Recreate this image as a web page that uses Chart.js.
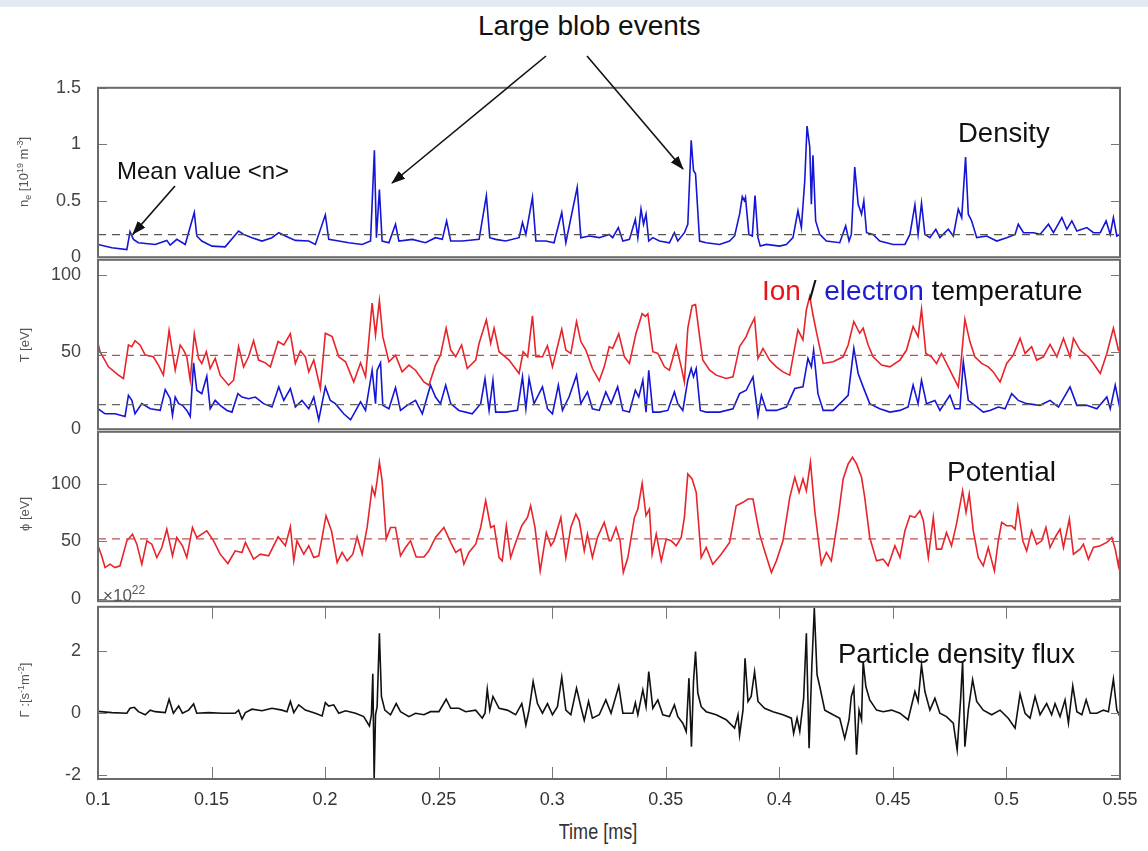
<!DOCTYPE html>
<html>
<head>
<meta charset="utf-8">
<script src="https://cdn.jsdelivr.net/npm/chart.js@4.4.0/dist/chart.umd.min.js"></script>
<style>
  body { margin: 0; width: 1148px; height: 851px; overflow: hidden; position: relative; background: #fff;
         font-family: "Liberation Sans", Arial, sans-serif; }
  canvas { position: absolute; left: 0; }
  .band { position: absolute; left: 0; top: 0; width: 1148px; height: 7px; background: #e2e9f2; }
  .note { position: absolute; white-space: nowrap; line-height: 1; color: #111; }
  .ylab { position: absolute; white-space: nowrap; color: #555; font-size: 13px;
          transform: translate(-50%, -50%) rotate(-90deg); }
  .ylab sup, .ylab sub { font-size: 9px; }
  .xlab { position: absolute; left: 598px; top: 832px; transform: translate(-50%, -50%) scaleX(0.82); color: #333;
          font-size: 22px; white-space: nowrap; }
</style>
</head>
<body>
<div class="band"></div>
<canvas id="c1" width="1148" height="225" style="top:60px"></canvas>
<canvas id="c2" width="1148" height="225" style="top:232px"></canvas>
<canvas id="c3" width="1148" height="225" style="top:404px"></canvas>
<canvas id="c4" width="1148" height="230" style="top:579px"></canvas>

<div class="ylab" style="left:24px;top:172px">n<sub>e</sub> [10<sup>19</sup> m<sup>-3</sup>]</div>
<div class="ylab" style="left:24px;top:345px">T [eV]</div>
<div class="ylab" style="left:24px;top:514px">&#981; [eV]</div>
<div class="ylab" style="left:24px;top:690px">&Gamma; :[s<sup>-1</sup>m<sup>-2</sup>]</div>
<div class="note" style="left:103px;top:584px;font-size:17px;color:#555">&times;10<sup style="font-size:12px">22</sup></div>
<div class="xlab">Time [ms]</div>

<div class="note" style="left:478px;top:12px;font-size:28px">Large blob events</div>
<div class="note" style="left:117px;top:159px;font-size:24px">Mean value &lt;n&gt;</div>
<div class="note" style="left:958px;top:119px;font-size:27.5px">Density</div>
<div class="note" style="left:762px;top:277px;font-size:28px"><span style="color:#e8141c">Ion</span> / <span style="color:#1c1cd0">electron</span> temperature</div>
<div class="note" style="left:947px;top:458px;font-size:28px">Potential</div>
<div class="note" style="left:838px;top:640px;font-size:27.5px">Particle density flux</div>

<svg width="1148" height="851" style="position:absolute;left:0;top:0;pointer-events:none">
  <defs>
    <marker id="ah" markerWidth="14" markerHeight="10" refX="13" refY="5" orient="auto" markerUnits="userSpaceOnUse">
      <path d="M0,0 L14,5 L0,10 z" fill="#111"/>
    </marker>
  </defs>
  <line x1="546" y1="56" x2="392" y2="183" stroke="#111" stroke-width="1.6" marker-end="url(#ah)"/>
  <line x1="587" y1="56" x2="683" y2="169" stroke="#111" stroke-width="1.6" marker-end="url(#ah)"/>
  <line x1="175" y1="186" x2="133" y2="234" stroke="#111" stroke-width="1.6" marker-end="url(#ah)"/>
</svg>

<script>
// time axis [ms]
var xTicks = [0.1, 0.15, 0.2, 0.25, 0.3, 0.35, 0.4, 0.45, 0.5, 0.55];
var xTickLabels = ['0.1', '0.15', '0.2', '0.25', '0.3', '0.35', '0.4', '0.45', '0.5', '0.55'];

var densityTicks = [0, 0.5, 1, 1.5];
var densityTickLabels = ['0', '0.5', '1', '1.5'];
var tempTicks = [0, 50, 100];
var potentialTicks = [0, 50, 100];
var fluxTicks = [-2, 0, 2];

// mean values (dashed lines)
var densityMean = 0.2;
var ionMean = 48;
var electronMean = 16;
var potentialMean = 52;

// n_e [1e19 m^-3]  [time, value]
var density = [
  [0.1000,0.113],[0.1061,0.083],[0.1127,0.068],[0.1141,0.226],[0.1156,0.158],[0.1178,0.128],[0.1252,0.113],
  [0.1303,0.149],[0.1318,0.107],[0.1347,0.158],[0.1384,0.113],[0.1424,0.396],[0.1435,0.188],[0.1457,0.143],
  [0.1502,0.098],[0.1560,0.092],[0.1619,0.232],[0.1641,0.202],[0.1678,0.173],[0.1722,0.143],[0.1766,0.173],
  [0.1796,0.217],[0.1825,0.188],[0.1869,0.149],[0.1928,0.143],[0.1957,0.113],[0.2001,0.375],[0.2016,0.158],
  [0.2060,0.143],[0.2104,0.128],[0.2163,0.113],[0.2200,0.143],[0.2217,0.946],[0.2226,0.173],[0.2239,0.598],
  [0.2251,0.143],[0.2281,0.128],[0.2310,0.292],[0.2325,0.143],[0.2384,0.158],[0.2442,0.128],[0.2486,0.173],
  [0.2516,0.158],[0.2535,0.321],[0.2553,0.143],[0.2604,0.143],[0.2678,0.158],[0.2710,0.545],[0.2725,0.173],
  [0.2751,0.158],[0.2795,0.143],[0.2854,0.173],[0.2869,0.307],[0.2884,0.202],[0.2913,0.530],[0.2928,0.143],
  [0.2972,0.143],[0.3008,0.128],[0.3042,0.396],[0.3060,0.128],[0.3110,0.619],[0.3126,0.173],[0.3163,0.188],
  [0.3207,0.173],[0.3251,0.202],
  [0.3266,0.173],[0.3291,0.262],[0.3311,0.143],[0.3340,0.158],[0.3366,0.336],[0.3377,0.173],[0.3391,0.426],
  [0.3402,0.292],[0.3413,0.381],[0.3425,0.143],[0.3443,0.173],[0.3472,0.143],[0.3516,0.128],[0.3538,0.217],
  [0.3553,0.143],[0.3582,0.217],[0.3597,0.292],[0.3612,1.036],[0.3622,0.768],[0.3631,0.738],[0.3649,0.143],
  [0.3678,0.128],[0.3737,0.113],[0.3781,0.143],[0.3803,0.188],[0.3825,0.381],[0.3837,0.536],[0.3846,0.500],
  [0.3851,0.530],[0.3866,0.202],[0.3881,0.188],[0.3893,0.545],[0.3906,0.173],[0.3916,0.098],[0.3943,0.113],
  [0.4001,0.098],[0.4031,0.113],[0.4060,0.173],[0.4082,0.411],[0.4097,0.262],[0.4112,0.679],[0.4122,1.161],
  [0.4134,0.976],[0.4141,0.470],[0.4148,0.902],[0.4160,0.321],[0.4178,0.202],[0.4207,0.143],[0.4266,0.128],
  [0.4292,0.277],[0.4307,0.143],[0.4317,0.202],[0.4332,0.798],[0.4347,0.470],[0.4362,0.381],[0.4372,0.500],
  [0.4384,0.217],[0.4413,0.202],[0.4442,0.143],[0.4501,0.113],[0.4553,0.113],[0.4575,0.202],[0.4597,0.464],
  [0.4611,0.202],[0.4626,0.479],[0.4641,0.202],[0.4663,0.173],[0.4689,0.247],[0.4707,0.173],[0.4744,0.247],
  [0.4766,0.188],[0.4788,0.426],[0.4803,0.351],[0.4820,0.887],[0.4832,0.381],[0.4847,0.321],[0.4869,0.173],
  [0.4913,0.188],[0.4957,0.143],[0.5001,0.173],[0.5038,0.202],[0.5052,0.292],[0.5075,0.217],[0.5119,0.217],
  [0.5148,0.202],[0.5185,0.292],[0.5207,0.217],[0.5244,0.351],[0.5266,0.247],[0.5288,0.321],[0.5310,0.232],
  [0.5354,0.262],[0.5383,0.217],[0.5413,0.217],[0.5439,0.321],[0.5457,0.202],[0.5471,0.351],[0.5486,0.188],
  [0.5500,0.202]
];

// ion temperature [eV]
var ionTemp = [
  [0.1000,55.8],[0.1009,50.3],[0.1046,40.5],[0.1090,35.1],[0.1112,32.9],[0.1134,54.7],[0.1149,53.6],[0.1163,57.5],
  [0.1185,54.7],[0.1208,48.1],[0.1244,47.0],[0.1266,41.6],[0.1288,35.1],[0.1313,64.1],[0.1340,38.3],[0.1362,54.7],
  [0.1377,51.4],[0.1391,47.0],[0.1406,31.8],[0.1424,61.9],[0.1443,45.9],[0.1457,42.7],[0.1477,50.3],[0.1494,39.4],
  [0.1516,45.9],[0.1538,35.1],[0.1575,28.6],[0.1597,31.8],[0.1619,53.6],[0.1641,40.5],[0.1663,47.0],[0.1685,57.5],
  [0.1707,44.9],[0.1737,43.1],[0.1759,40.5],[0.1793,56.9],[0.1818,54.7],[0.1847,61.9],[0.1869,42.7],[0.1891,50.9],
  [0.1913,47.0],[0.1928,37.2],[0.1950,44.9],[0.1979,26.4],[0.2001,62.3],[0.2031,60.1],[0.2060,47.0],[0.2090,43.8],
  [0.2126,30.7],[0.2156,43.1],[0.2178,34.0],[0.2207,81.9],[0.2222,61.2],[0.2239,83.4],[0.2254,60.1],[0.2281,43.8],
  [0.2310,48.1],[0.2339,37.2],[0.2369,41.6],[0.2398,38.3],[0.2435,30.7],[0.2457,28.6],[0.2486,41.6],[0.2508,48.1],
  [0.2533,65.6],[0.2553,51.4],[0.2575,47.0],[0.2601,54.7],[0.2626,39.4],[0.2663,44.9],[0.2678,55.8],[0.2710,71.0],
  [0.2729,55.8],[0.2744,65.6],[0.2766,50.3],[0.2810,44.9],[0.2854,36.2],[0.2872,50.3],[0.2892,47.0],[0.2913,73.6],
  [0.2928,47.0],[0.2957,47.0],[0.2979,54.2],[0.3001,40.5],[0.3042,64.9],[0.3060,51.4],[0.3082,49.2],[0.3107,69.9],
  [0.3126,56.9],[0.3148,51.4],[0.3177,39.4],[0.3207,31.4],[0.3229,40.5],[0.3251,53.6],
  [0.3266,52.5],[0.3293,61.9],[0.3318,47.0],[0.3340,42.7],[0.3369,62.3],[0.3396,75.0],[0.3410,73.2],[0.3421,75.0],
  [0.3443,50.3],[0.3465,49.2],[0.3494,40.5],[0.3516,38.3],[0.3546,54.2],[0.3568,40.5],[0.3582,30.7],[0.3597,65.6],
  [0.3616,80.2],[0.3631,80.9],[0.3649,60.1],[0.3663,44.9],[0.3693,38.3],[0.3722,35.1],[0.3766,32.9],[0.3796,34.0],
  [0.3825,53.6],[0.3854,60.1],[0.3869,65.6],[0.3891,72.1],[0.3906,45.9],[0.3928,52.5],[0.3957,44.9],[0.3987,40.5],
  [0.4016,37.2],[0.4046,35.1],[0.4082,64.5],[0.4104,58.0],[0.4119,77.6],[0.4134,86.3],[0.4148,74.3],[0.4166,61.2],
  [0.4193,42.7],[0.4237,43.8],[0.4281,47.0],[0.4303,54.7],[0.4328,69.9],[0.4354,62.3],[0.4369,65.6],[0.4391,54.7],
  [0.4413,47.0],[0.4450,41.6],[0.4487,40.5],[0.4531,44.9],[0.4560,51.4],[0.4589,66.7],[0.4611,60.1],[0.4626,78.0],
  [0.4645,49.2],[0.4670,47.0],[0.4692,42.7],[0.4714,49.2],[0.4744,40.5],[0.4766,34.0],[0.4788,27.5],[0.4798,40.5],
  [0.4817,71.3],[0.4839,56.9],[0.4861,47.0],[0.4891,42.7],[0.4920,40.5],[0.4942,37.2],[0.4972,30.7],[0.5001,42.7],
  [0.5030,48.1],[0.5060,59.0],[0.5082,49.2],[0.5111,53.6],[0.5133,44.9],[0.5163,47.0],[0.5192,55.1],[0.5222,47.0],
  [0.5251,59.0],[0.5280,47.0],[0.5295,59.0],[0.5324,51.4],[0.5361,47.0],[0.5383,42.7],[0.5413,36.2],[0.5442,49.2],
  [0.5471,65.6],[0.5493,51.4],[0.5500,50.3]
];

// electron temperature [eV]
var electronTemp = [
  [0.1000,13.3],[0.1031,10.0],[0.1075,10.0],[0.1119,8.3],[0.1134,22.0],[0.1149,18.7],[0.1163,10.0],[0.1193,16.6],
  [0.1230,13.3],[0.1274,12.2],[0.1296,25.7],[0.1318,19.8],[0.1328,9.0],[0.1340,20.9],[0.1355,16.6],[0.1372,15.5],
  [0.1391,12.2],[0.1406,8.3],[0.1421,43.1],[0.1435,25.3],[0.1457,23.1],[0.1479,34.4],[0.1494,13.3],[0.1516,18.7],
  [0.1538,15.5],[0.1568,12.2],[0.1590,11.1],[0.1616,23.1],[0.1634,20.9],[0.1663,19.8],[0.1693,20.9],[0.1729,16.6],
  [0.1766,14.4],[0.1796,27.5],[0.1818,18.7],[0.1847,26.4],[0.1869,14.4],[0.1898,18.7],[0.1928,13.3],[0.1950,20.9],
  [0.1972,6.1],[0.2001,27.5],[0.2023,18.7],[0.2045,16.6],[0.2082,10.0],[0.2112,6.1],[0.2156,17.7],[0.2178,12.2],
  [0.2207,38.3],[0.2222,16.6],[0.2229,38.3],[0.2244,43.1],[0.2254,15.5],[0.2281,13.3],[0.2310,27.0],[0.2332,12.2],
  [0.2361,15.5],[0.2398,18.7],[0.2428,10.0],[0.2464,28.6],[0.2486,20.9],[0.2508,16.6],[0.2531,28.6],[0.2553,16.6],
  [0.2589,12.2],[0.2648,10.0],[0.2685,16.6],[0.2704,32.9],[0.2722,12.2],[0.2739,31.8],[0.2751,11.1],[0.2795,11.1],
  [0.2847,12.2],[0.2869,34.0],[0.2884,13.3],[0.2898,32.9],[0.2920,16.6],[0.2957,27.5],[0.2979,13.3],[0.3001,10.0],
  [0.3027,28.6],[0.3045,12.2],[0.3074,20.9],[0.3107,35.1],[0.3126,16.6],[0.3155,24.2],[0.3177,13.3],[0.3207,12.2],
  [0.3236,24.2],
  [0.3259,16.6],[0.3288,27.5],[0.3311,12.2],[0.3340,11.1],[0.3366,25.3],[0.3381,20.9],[0.3399,31.8],[0.3413,11.1],
  [0.3425,38.3],[0.3443,11.1],[0.3472,11.1],[0.3509,12.2],[0.3538,24.2],[0.3553,16.6],[0.3575,12.2],[0.3597,31.8],
  [0.3612,39.4],[0.3622,34.0],[0.3634,39.4],[0.3652,12.2],[0.3678,11.1],[0.3737,11.1],[0.3796,13.3],[0.3825,23.1],
  [0.3854,25.3],[0.3884,34.0],[0.3906,9.0],[0.3921,22.0],[0.3943,12.2],[0.3987,12.2],[0.4031,14.4],[0.4068,26.4],
  [0.4104,27.5],[0.4126,46.0],[0.4141,40.5],[0.4151,51.4],[0.4170,23.1],[0.4193,12.2],[0.4237,12.2],[0.4281,18.7],
  [0.4303,22.0],[0.4328,52.5],[0.4347,36.2],[0.4369,27.5],[0.4398,16.6],[0.4442,13.3],[0.4487,11.1],[0.4531,12.2],
  [0.4567,14.4],[0.4589,28.6],[0.4611,16.6],[0.4626,31.8],[0.4648,16.6],[0.4685,18.7],[0.4707,12.2],[0.4751,22.0],
  [0.4773,13.3],[0.4795,13.3],[0.4810,43.8],[0.4832,18.7],[0.4861,15.5],[0.4898,11.1],[0.4927,12.2],[0.4964,14.4],
  [0.4994,13.3],[0.5023,23.1],[0.5052,18.7],[0.5089,16.6],[0.5148,15.5],[0.5192,18.7],[0.5229,14.4],[0.5280,27.5],
  [0.5310,15.5],[0.5354,15.5],[0.5398,13.3],[0.5442,20.9],[0.5457,13.3],[0.5479,28.6],[0.5500,13.3]
];

// plasma potential [eV]
var potential = [
  [0.1000,46.1],[0.1016,37.4],[0.1031,27.2],[0.1053,30.1],[0.1075,27.2],[0.1097,28.7],[0.1127,50.4],[0.1152,56.2],
  [0.1171,47.5],[0.1193,30.1],[0.1215,50.4],[0.1237,47.5],[0.1259,35.9],[0.1281,44.6],[0.1303,60.5],[0.1328,37.4],
  [0.1347,53.3],[0.1372,46.1],[0.1391,35.9],[0.1416,62.0],[0.1435,53.3],[0.1457,56.2],[0.1479,59.1],[0.1509,50.4],
  [0.1538,38.8],[0.1572,30.7],[0.1604,41.7],[0.1634,40.3],[0.1649,49.0],[0.1685,34.5],[0.1715,38.8],[0.1751,37.4],
  [0.1793,53.9],[0.1825,46.1],[0.1847,62.6],[0.1862,33.0],[0.1876,50.4],[0.1906,38.8],[0.1928,46.1],[0.1950,35.9],
  [0.1972,37.4],[0.2004,72.2],[0.2028,59.1],[0.2053,31.6],[0.2075,40.3],[0.2097,33.0],[0.2122,38.8],[0.2141,53.9],
  [0.2163,38.8],[0.2185,62.0],[0.2207,96.8],[0.2219,89.6],[0.2229,102.6],[0.2239,118.6],[0.2251,102.6],[0.2269,51.9],
  [0.2288,62.0],[0.2310,62.0],[0.2332,37.4],[0.2354,44.6],[0.2376,50.4],[0.2401,36.4],[0.2435,36.4],[0.2457,41.7],
  [0.2486,53.3],[0.2523,62.0],[0.2553,49.0],[0.2575,40.3],[0.2597,43.2],[0.2611,30.1],[0.2633,40.3],[0.2663,47.5],
  [0.2685,62.0],[0.2707,85.2],[0.2729,62.0],[0.2744,63.5],[0.2766,35.9],[0.2780,33.0],[0.2798,63.5],[0.2817,35.9],
  [0.2839,49.0],[0.2866,63.5],[0.2891,70.7],[0.2905,80.9],[0.2924,62.0],[0.2947,24.3],[0.2974,57.6],[0.2994,46.1],
  [0.3008,50.4],[0.3038,70.7],[0.3060,35.9],[0.3082,62.0],[0.3104,73.6],[0.3119,67.8],[0.3141,41.7],[0.3155,56.2],
  [0.3177,35.9],[0.3199,53.3],[0.3229,66.4],[0.3251,50.4],
  [0.3259,50.4],[0.3281,62.0],[0.3299,50.4],[0.3313,22.9],[0.3333,35.9],[0.3362,70.7],[0.3377,77.9],[0.3396,100.3],
  [0.3413,72.2],[0.3428,77.9],[0.3440,38.8],[0.3458,56.2],[0.3480,33.0],[0.3502,51.9],[0.3524,50.4],[0.3546,46.1],
  [0.3568,53.3],[0.3582,70.7],[0.3597,108.4],[0.3616,104.1],[0.3634,92.5],[0.3656,35.9],[0.3678,44.6],[0.3707,30.1],
  [0.3744,38.8],[0.3781,49.0],[0.3810,80.9],[0.3840,83.8],[0.3862,86.7],[0.3884,86.7],[0.3899,70.7],[0.3913,56.2],
  [0.3935,41.7],[0.3965,22.9],[0.3987,33.0],[0.4016,50.4],[0.4046,88.1],[0.4068,105.5],[0.4087,92.5],[0.4104,104.1],
  [0.4119,93.9],[0.4137,118.6],[0.4156,76.5],[0.4185,30.1],[0.4207,40.3],[0.4229,33.0],[0.4259,70.7],[0.4281,104.1],
  [0.4303,117.1],[0.4322,122.9],[0.4340,117.1],[0.4362,105.5],[0.4376,88.1],[0.4398,53.3],[0.4428,33.0],[0.4457,34.5],
  [0.4479,28.7],[0.4509,46.1],[0.4531,35.9],[0.4553,59.1],[0.4575,72.2],[0.4597,70.7],[0.4619,76.5],[0.4634,67.8],
  [0.4656,35.9],[0.4678,70.7],[0.4692,43.2],[0.4714,43.2],[0.4736,57.6],[0.4758,46.1],[0.4780,64.9],[0.4807,93.9],
  [0.4822,75.1],[0.4836,91.0],[0.4854,59.1],[0.4876,35.9],[0.4898,28.7],[0.4920,44.6],[0.4947,24.3],[0.4964,50.4],
  [0.4979,66.4],[0.5001,63.5],[0.5023,63.5],[0.5038,60.5],[0.5050,80.0],[0.5072,50.4],[0.5089,41.7],[0.5111,59.1],
  [0.5133,47.5],[0.5155,50.4],[0.5174,62.0],[0.5192,44.6],[0.5214,53.3],[0.5236,60.5],[0.5251,44.6],[0.5277,69.3],
  [0.5295,38.8],[0.5324,43.2],[0.5339,47.5],[0.5361,34.5],[0.5383,44.6],[0.5413,46.1],[0.5442,49.0],[0.5464,53.3],
  [0.5479,43.2],[0.5493,28.7],[0.5500,38.8]
];

// particle flux [1e22 s^-1 m^-2]
var flux = [
  [0.1000,0.05],[0.1061,0.01],[0.1127,-0.01],[0.1141,0.15],[0.1160,0.18],[0.1178,0.04],[0.1208,-0.06],[0.1230,0.09],
  [0.1252,0.04],[0.1296,0.01],[0.1313,0.44],[0.1332,-0.01],[0.1355,0.22],[0.1372,-0.01],[0.1399,0.09],[0.1421,0.29],
  [0.1435,-0.01],[0.1487,0.01],[0.1546,-0.01],[0.1604,-0.01],[0.1619,0.09],[0.1634,-0.20],[0.1649,0.01],[0.1678,0.12],
  [0.1722,0.07],[0.1766,0.15],[0.1810,0.09],[0.1832,0.04],[0.1847,0.37],[0.1862,0.01],[0.1884,0.26],[0.1913,0.09],
  [0.1957,-0.01],[0.1987,-0.10],[0.2001,0.33],[0.2016,0.22],[0.2038,0.26],[0.2060,-0.01],[0.2090,0.07],[0.2134,-0.01],
  [0.2170,-0.12],[0.2195,-0.42],[0.2204,-0.06],[0.2210,1.26],[0.2216,-2.11],[0.2222,-0.06],[0.2229,0.20],[0.2239,2.57],
  [0.2248,0.53],[0.2263,0.09],[0.2288,-0.06],[0.2313,0.30],[0.2332,0.04],[0.2369,-0.12],[0.2398,-0.01],[0.2435,-0.06],
  [0.2464,0.04],[0.2501,0.04],[0.2533,0.44],[0.2553,0.15],[0.2589,0.15],[0.2619,0.04],[0.2663,0.09],[0.2692,-0.17],
  [0.2704,-0.01],[0.2714,0.76],[0.2725,0.09],[0.2739,0.53],[0.2766,0.15],[0.2802,0.09],[0.2839,-0.06],[0.2866,0.30],
  [0.2876,-0.06],[0.2884,-0.39],[0.2898,0.09],[0.2916,1.01],[0.2935,0.30],[0.2957,-0.01],[0.2979,0.30],[0.3001,-0.06],
  [0.3023,0.20],[0.3042,1.15],[0.3060,0.09],[0.3082,-0.06],[0.3107,0.80],[0.3126,0.20],[0.3141,-0.24],[0.3160,0.37],
  [0.3177,-0.17],[0.3207,-0.06],[0.3236,0.42],
  [0.3259,-0.01],[0.3293,0.87],[0.3311,-0.01],[0.3355,-0.01],[0.3366,0.33],[0.3377,-0.06],[0.3399,0.74],[0.3413,0.20],
  [0.3425,1.33],[0.3443,0.15],[0.3465,0.42],[0.3487,-0.06],[0.3516,-0.12],[0.3538,0.26],[0.3553,-0.12],[0.3575,-0.33],
  [0.3590,-0.60],[0.3602,1.12],[0.3613,-1.09],[0.3622,1.01],[0.3631,1.98],[0.3641,0.64],[0.3656,0.20],[0.3678,0.04],
  [0.3722,-0.06],[0.3766,-0.22],[0.3803,-0.49],[0.3818,-0.06],[0.3825,-0.71],[0.3840,0.09],[0.3849,1.76],[0.3862,0.37],
  [0.3876,0.53],[0.3891,1.33],[0.3906,0.37],[0.3935,0.15],[0.3972,0.04],[0.4016,-0.06],[0.4053,-0.17],[0.4063,-0.66],
  [0.4078,-0.17],[0.4090,-0.60],[0.4107,0.47],[0.4119,2.57],[0.4131,-1.14],[0.4143,1.49],[0.4154,3.38],[0.4166,1.23],
  [0.4178,0.85],[0.4200,0.09],[0.4237,-0.06],[0.4266,-0.17],[0.4288,-0.82],[0.4307,-0.22],[0.4317,0.53],[0.4328,0.80],
  [0.4340,-1.35],[0.4351,0.09],[0.4362,-0.22],[0.4369,1.66],[0.4381,0.85],[0.4398,0.42],[0.4428,0.09],[0.4457,0.04],
  [0.4494,0.09],[0.4531,-0.01],[0.4567,-0.22],[0.4597,0.69],[0.4611,0.37],[0.4626,1.55],[0.4641,0.69],[0.4663,0.09],
  [0.4685,0.47],[0.4707,-0.01],[0.4736,-0.12],[0.4766,-0.33],[0.4783,-1.19],[0.4798,0.42],[0.4807,1.66],[0.4817,-1.09],
  [0.4832,0.09],[0.4851,1.07],[0.4869,0.37],[0.4898,0.09],[0.4935,-0.06],[0.4972,0.09],[0.5008,-0.17],[0.5038,-0.49],
  [0.5060,0.61],[0.5082,-0.01],[0.5104,-0.17],[0.5126,0.53],[0.5148,-0.06],[0.5177,0.30],[0.5199,-0.06],[0.5214,0.30],
  [0.5236,-0.12],[0.5258,0.42],[0.5273,-0.33],[0.5292,0.87],[0.5310,0.04],[0.5332,-0.06],[0.5351,0.42],[0.5369,-0.01],
  [0.5398,-0.01],[0.5427,0.09],[0.5449,0.04],[0.5471,1.09],[0.5486,0.09],[0.5500,-0.12]
];

var BLUE = '#1515d6', RED = '#e8242a', BLACK = '#111';

Chart.defaults.font.family = '"Liberation Sans", Arial, sans-serif';

function line(pts, color) {
  return {
    data: pts.map(function(p) { return {x: p[0], y: p[1]}; }),
    borderColor: color, borderWidth: 1.6, pointRadius: 0, tension: 0, order: 2
  };
}
function meanLine(m, color) {
  return {
    data: [{x: xTicks[0], y: m}, {x: xTicks[xTicks.length - 1], y: m}],
    borderColor: color, borderWidth: 1.2, borderDash: [8, 6], pointRadius: 0, order: 1
  };
}

// MATLAB-style box with inward ticks
var frame = {
  id: 'frame',
  afterDatasetsDraw: function(chart, args, opts) {
    var ctx = chart.ctx, a = chart.chartArea, sx = chart.scales.x, sy = chart.scales.y;
    ctx.save();
    ctx.strokeStyle = '#777';
    ctx.lineWidth = 1;
    ctx.beginPath();
    opts.yTicks.forEach(function(v) {
      var y = Math.round(sy.getPixelForValue(v)) + 0.5;
      ctx.moveTo(a.left, y); ctx.lineTo(a.left + 9, y);
      ctx.moveTo(a.right, y); ctx.lineTo(a.right - 9, y);
    });
    if (opts.xTicks) {
      xTicks.forEach(function(v) {
        var x = Math.round(sx.getPixelForValue(v)) + 0.5;
        ctx.moveTo(x, a.top); ctx.lineTo(x, a.top + 12);
        ctx.moveTo(x, a.bottom); ctx.lineTo(x, a.bottom - 12);
      });
    }
    ctx.stroke();
    ctx.lineWidth = 2;
    ctx.strokeStyle = '#6a6a6a';
    ctx.strokeRect(a.left, a.top, a.width, a.height);
    ctx.restore();
  }
};

function panel(id, datasets, yMin, yMax, yTicks, yLabels, bottom) {
  new Chart(document.getElementById(id), {
    type: 'line',
    data: {datasets: datasets},
    plugins: [frame],
    options: {
      responsive: false, animation: false, devicePixelRatio: 1, events: [],
      layout: {padding: {left: 0, right: 28, top: 0, bottom: 0}},
      plugins: {legend: {display: false}, tooltip: {enabled: false}, frame: {yTicks: yTicks, xTicks: bottom}},
      scales: {
        x: {
          type: 'linear', min: xTicks[0], max: xTicks[xTicks.length - 1], display: bottom,
          grid: {display: false, drawTicks: false}, border: {display: false},
          afterBuildTicks: function(s) { s.ticks = xTicks.map(function(v) { return {value: v}; }); },
          afterFit: function(s) { if (bottom) s.height = 30; },
          ticks: {
            padding: 10, color: '#333', maxRotation: 0, autoSkip: false,
            font: {size: 18},
            callback: function(v) { return xTickLabels[xTicks.indexOf(v)]; }
          }
        },
        y: {
          min: yMin, max: yMax,
          grid: {display: false, drawTicks: false}, border: {display: false},
          afterBuildTicks: function(s) { s.ticks = yTicks.map(function(v) { return {value: v}; }); },
          afterFit: function(s) { s.width = 98; },
          ticks: {
            padding: 17, color: '#444', font: {size: 18},
            callback: function(v) { return yLabels[yTicks.indexOf(v)]; }
          }
        }
      }
    }
  });
}

panel('c1', [meanLine(densityMean, '#555'), line(density, BLUE)],
      0, 1.5, densityTicks, densityTickLabels, false);
panel('c2', [meanLine(ionMean, '#c0504d'), meanLine(electronMean, '#666'), line(ionTemp, RED), line(electronTemp, BLUE)],
      0, 110, tempTicks, tempTicks.map(String), false);
panel('c3', [meanLine(potentialMean, '#c0504d'), line(potential, RED)],
      -2, 145, potentialTicks, potentialTicks.map(String), false);
panel('c4', [line(flux, BLACK)],
      -2.13, 3.42, fluxTicks, fluxTicks.map(String), true);
</script>
</body>
</html>
